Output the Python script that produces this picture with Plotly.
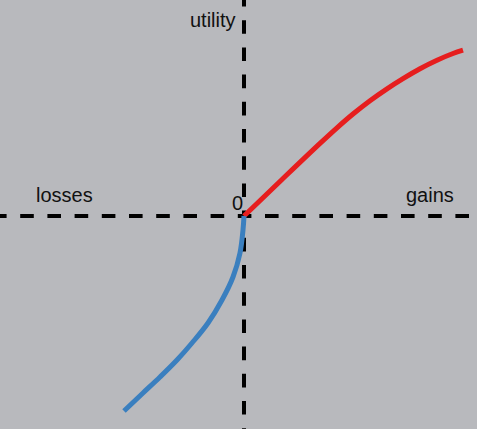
import plotly.graph_objects as go

# Value function: utility of gains (concave) and losses (steeper, convex)
gain_x = [0, 38, 76, 93, 109, 126, 143, 159, 176, 193, 209, 219]
gain_u = [0, 36.5, 72.6, 88.2, 102, 115.3, 127.2, 137.4, 147.3, 155.8, 162.5, 165.8]

loss_x = [0, -1, -4, -11, -22, -36, -52, -67, -84, -101, -120]
loss_u = [0, -14, -37, -61, -84, -107, -127, -144, -161, -177, -195]

# Plot extent (the axes cross at the origin)
x_range = [-244, 233]
y_range = [-213, 216]

axis_labels = {"utility": (-31, 196), "losses": (-180, 21), "gains": (186, 21), "0": (-7, 13)}

BG = "#b8b9bd"
RED = "#e61e1e"
BLUE = "#3a7fbf"
DASH = "13.6px,13.6px"
lead = 7  # dash phase offset

fig = go.Figure()

# dashed axes
fig.add_trace(go.Scatter(
    x=[x_range[0] - lead, x_range[1]], y=[0, 0], mode="lines",
    line=dict(color="black", width=4, dash=DASH), hoverinfo="skip"))
fig.add_trace(go.Scatter(
    x=[0, 0], y=[y_range[1] + lead, y_range[0]], mode="lines",
    line=dict(color="black", width=4, dash=DASH), hoverinfo="skip"))

# gains and losses
fig.add_trace(go.Scatter(x=gain_x, y=gain_u, mode="lines",
                         line=dict(color=RED, width=5, shape="spline", smoothing=1)))
fig.add_trace(go.Scatter(x=loss_x, y=loss_u, mode="lines",
                         line=dict(color=BLUE, width=5, shape="spline", smoothing=1)))

for text, (ax, ay) in axis_labels.items():
    fig.add_annotation(x=ax, y=ay, text=text, showarrow=False,
                       xanchor="center", yanchor="middle",
                       font=dict(family="Liberation Sans, Arial", size=20, color="#111111"))

fig.update_xaxes(range=x_range, visible=False, fixedrange=True)
fig.update_yaxes(range=y_range, visible=False, fixedrange=True)
fig.update_layout(
    width=477, height=429,
    margin=dict(l=0, r=0, t=0, b=0),
    paper_bgcolor=BG, plot_bgcolor=BG,
    showlegend=False,
)

fig.write_html("out.html")
